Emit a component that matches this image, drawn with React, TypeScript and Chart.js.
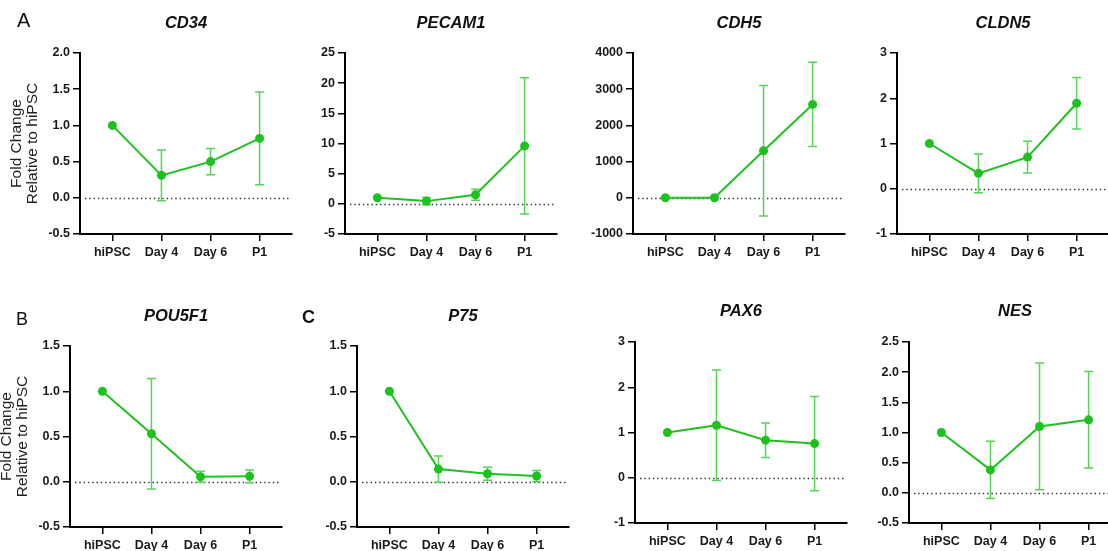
import React, { useEffect, useRef } from 'react';
import { Chart, registerables } from 'chart.js';

Chart.register(...registerables);

const FONT = '"Liberation Sans", Arial, Helvetica, sans-serif';
const GREEN = '#1ec21e';
const ERR_GREEN = '#55d455';

// ---- data ----
const stages = ['hiPSC', 'Day 4', 'Day 6', 'P1'];

const cd34Mean = [1.0, 0.31, 0.5, 0.82];
const cd34Err = [0, 0.35, 0.18, 0.64];

const pecam1Mean = [1.0, 0.45, 1.5, 9.6];
const pecam1Err = [0, 0.6, 0.9, 11.3];

const cdh5Mean = [1, 0, 1300, 2580];
const cdh5Err = [0, 0, 1800, 1165];

const cldn5Mean = [1.0, 0.34, 0.7, 1.89];
const cldn5Err = [0, 0.43, 0.35, 0.57];

const pou5f1Mean = [1.0, 0.53, 0.055, 0.06];
const pou5f1Err = [0, 0.61, 0.06, 0.07];

const p75Mean = [1.0, 0.14, 0.088, 0.063];
const p75Err = [0, 0.145, 0.072, 0.06];

const pax6Mean = [1.0, 1.16, 0.83, 0.755];
const pax6Err = [0, 1.22, 0.38, 1.04];

const nesMean = [1.0, 0.38, 1.1, 1.21];
const nesErr = [0, 0.475, 1.05, 0.8];

// y-axis ranges: [min, max, step, decimals]
const cd34Axis = [-0.5, 2.0, 0.5, 1];
const pecam1Axis = [-5, 25, 5, 0];
const cdh5Axis = [-1000, 4000, 1000, 0];
const cldn5Axis = [-1, 3, 1, 0];
const pou5f1Axis = [-0.5, 1.5, 0.5, 1];
const p75Axis = [-0.5, 1.5, 0.5, 1];
const pax6Axis = [-1, 3, 1, 0];
const nesAxis = [-0.5, 2.5, 0.5, 1];

const yAxisTitle = ['Fold Change', 'Relative to hiPSC'];

// ---- layout ----
const TOPSPACE = 60;
const BOTTOMSPACE = 40;
const LEFTSPACE = 80;
const RIGHTPAD = 8;
const PLOTW = 212;

type PanelCfg = {
  title: string;
  mean: number[];
  err: number[];
  axis: number[];
  axisX: number;
  top: number;
  bottom: number;
  titleY: number;
  yTitle: boolean;
};

const panels: PanelCfg[] = [
  { title: 'CD34', mean: cd34Mean, err: cd34Err, axis: cd34Axis, axisX: 80, top: 53, bottom: 233.5, titleY: 23.5, yTitle: true },
  { title: 'PECAM1', mean: pecam1Mean, err: pecam1Err, axis: pecam1Axis, axisX: 345, top: 53, bottom: 233.5, titleY: 23, yTitle: false },
  { title: 'CDH5', mean: cdh5Mean, err: cdh5Err, axis: cdh5Axis, axisX: 633, top: 53, bottom: 234, titleY: 23, yTitle: false },
  { title: 'CLDN5', mean: cldn5Mean, err: cldn5Err, axis: cldn5Axis, axisX: 897, top: 53, bottom: 234, titleY: 23, yTitle: false },
  { title: 'POU5F1', mean: pou5f1Mean, err: pou5f1Err, axis: pou5f1Axis, axisX: 70, top: 346, bottom: 527, titleY: 316, yTitle: true },
  { title: 'P75', mean: p75Mean, err: p75Err, axis: p75Axis, axisX: 357, top: 346, bottom: 527, titleY: 316, yTitle: false },
  { title: 'PAX6', mean: pax6Mean, err: pax6Err, axis: pax6Axis, axisX: 635, top: 342, bottom: 523, titleY: 311, yTitle: false },
  { title: 'NES', mean: nesMean, err: nesErr, axis: nesAxis, axisX: 909, top: 342, bottom: 522.5, titleY: 311, yTitle: false },
];

const errorBarPlugin = {
  id: 'errorBars',
  beforeDatasetsDraw(chart: any) {
    const { ctx, chartArea, scales } = chart;
    const x = scales.x;
    const y = scales.y;
    ctx.save();
    // dotted zero line
    const y0 = Math.round(y.getPixelForValue(0)) + 0.5;
    ctx.strokeStyle = '#333';
    ctx.lineWidth = 1.4;
    ctx.setLineDash([1.4, 2.9]);
    ctx.beginPath();
    ctx.moveTo(chartArea.left + 5, y0);
    ctx.lineTo(chartArea.right - 3, y0);
    ctx.stroke();
    ctx.setLineDash([]);
    // error bars
    const ds = chart.data.datasets[0];
    const errs: number[] = ds.errors || [];
    ctx.strokeStyle = ERR_GREEN;
    ctx.lineWidth = 1.5;
    errs.forEach((e, i) => {
      if (!e) return;
      const m = ds.data[i].y;
      const px = x.getPixelForValue(i);
      const pt = y.getPixelForValue(m + e);
      const pb = y.getPixelForValue(m - e);
      ctx.beginPath();
      ctx.moveTo(px, pt);
      ctx.lineTo(px, pb);
      ctx.moveTo(px - 4.5, pt);
      ctx.lineTo(px + 4.5, pt);
      ctx.moveTo(px - 4.5, pb);
      ctx.lineTo(px + 4.5, pb);
      ctx.stroke();
    });
    ctx.restore();
  },
};

const panelTitlePlugin = {
  id: 'panelTitle',
  afterDraw(chart: any) {
    const { ctx, chartArea } = chart;
    const ds = chart.data.datasets[0];
    ctx.save();
    ctx.font = 'italic bold 16.5px ' + FONT;
    ctx.fillStyle = '#111';
    ctx.textAlign = 'center';
    ctx.textBaseline = 'middle';
    ctx.fillText(ds.label, (chartArea.left + chartArea.right) / 2, ds.titleY);
    ctx.restore();
  },
};

function Panel({ cfg }: { cfg: PanelCfg }) {
  const ref = useRef<HTMLCanvasElement>(null);
  const plotH = cfg.bottom - cfg.top;
  const width = LEFTSPACE + PLOTW + RIGHTPAD;
  const height = Math.round(TOPSPACE + plotH + BOTTOMSPACE);
  const left = cfg.axisX - LEFTSPACE;
  const top = cfg.top - TOPSPACE;

  useEffect(() => {
    const [ymin, ymax, ystep, dec] = cfg.axis;
    const tickFont = { family: FONT, size: 12.5, weight: 'bold' as const };
    const chart = new Chart(ref.current as HTMLCanvasElement, {
      type: 'line',
      data: {
        datasets: [
          {
            label: cfg.title,
            titleY: cfg.titleY - top,
            data: cfg.mean.map((v, i) => ({ x: i, y: v })),
            errors: cfg.err,
            borderColor: GREEN,
            backgroundColor: GREEN,
            borderWidth: 2,
            pointRadius: 4.5,
            pointHoverRadius: 4.5,
            pointBorderWidth: 0,
            tension: 0,
            clip: false,
          } as any,
        ],
      },
      options: {
        responsive: false,
        animation: false,
        devicePixelRatio: 1,
        events: [],
        layout: { padding: { left: 0, top: TOPSPACE, right: RIGHTPAD, bottom: 0 } },
        plugins: {
          legend: { display: false },
          tooltip: { enabled: false },
          title: { display: false },
        },
        scales: {
          x: {
            type: 'linear',
            min: -0.66,
            max: 3.66,
            afterBuildTicks: (s: any) => {
              s.ticks = stages.map((_, i) => ({ value: i }));
            },
            afterFit: (s: any) => {
              s.height = BOTTOMSPACE;
            },
            ticks: {
              autoSkip: false,
              maxRotation: 0,
              padding: 4,
              color: '#1a1a1a',
              font: tickFont,
              callback: (v: any) => stages[Math.round(Number(v))],
            },
            grid: { drawOnChartArea: false, drawTicks: true, tickLength: 7, color: '#000', lineWidth: 1.5 },
            border: { display: true, color: '#000', width: 2 },
          },
          y: {
            min: ymin,
            max: ymax,
            afterBuildTicks: (s: any) => {
              const t: any[] = [];
              const n = Math.round((ymax - ymin) / ystep);
              for (let k = 0; k <= n; k++) t.push({ value: ymin + k * ystep });
              s.ticks = t;
            },
            afterFit: (s: any) => {
              s.width = LEFTSPACE;
            },
            ticks: {
              padding: 3,
              color: '#1a1a1a',
              font: tickFont,
              callback: (v: any) => Number(v).toFixed(dec),
            },
            grid: { drawOnChartArea: false, drawTicks: true, tickLength: 7, color: '#000', lineWidth: 1.5 },
            border: { display: true, color: '#000', width: 2 },
            title: {
              display: cfg.yTitle,
              text: yAxisTitle,
              color: '#222',
              font: { family: FONT, size: 15.5, lineHeight: 1.04 },
              padding: { top: 9, bottom: 0 },
            },
          },
        },
      },
      plugins: [errorBarPlugin, panelTitlePlugin],
    } as any);
    return () => chart.destroy();
  }, []);

  return (
    <canvas
      ref={ref}
      width={width}
      height={height}
      style={{ position: 'absolute', left, top, width, height }}
    />
  );
}

const letterStyle: React.CSSProperties = {
  position: 'absolute',
  fontFamily: FONT,
  color: '#111',
  lineHeight: 1,
  whiteSpace: 'nowrap',
};

export default function App() {
  return (
    <div
      style={{
        position: 'absolute',
        left: 0,
        top: 0,
        width: 1108,
        height: 551,
        overflow: 'hidden',
        background: '#fff',
      }}
    >
      {panels.map((p) => (
        <Panel key={p.title} cfg={p} />
      ))}
      <div style={{ ...letterStyle, left: 17, top: 10, fontSize: 20 }}>A</div>
      <div style={{ ...letterStyle, left: 16, top: 310, fontSize: 18 }}>B</div>
      <div style={{ ...letterStyle, left: 302, top: 308, fontSize: 18, fontWeight: 'bold' }}>C</div>
    </div>
  );
}
